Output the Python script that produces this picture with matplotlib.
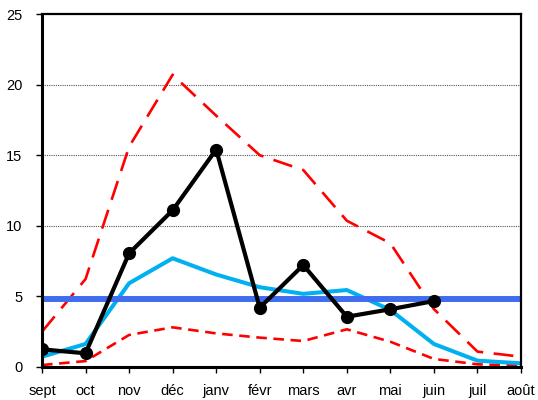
import matplotlib
matplotlib.use("Agg")
import matplotlib.pyplot as plt
import numpy as np

months = ["sept", "oct", "nov", "déc", "janv", "févr", "mars", "avr", "mai", "juin", "juil", "août"]
observed = [1.25, 0.97, 8.05, 11.1, 15.4, 4.2, 7.22, 3.56, 4.09, 4.67]
median = [0.73, 1.63, 5.93, 7.7, 6.55, 5.65, 5.18, 5.45, 4.04, 1.63, 0.45, 0.26]
upper = [2.5, 6.23, 15.6, 20.7, 17.8, 15.0, 13.95, 10.36, 8.76, 4.1, 1.09, 0.73]
lower = [0.14, 0.42, 2.27, 2.81, 2.38, 2.08, 1.84, 2.67, 1.79, 0.57, 0.19, 0.1]
mean_level = 4.79
yticks = [0, 5, 10, 15, 20, 25]

plt.rcParams["font.family"] = ["Liberation Sans", "DejaVu Sans"]

fig = plt.figure(figsize=(5.38, 4.0), dpi=100)
ax = fig.add_axes([42/538, 1-367/400, (521-42)/538, (367-14)/400])

x = np.arange(len(months))
ax.set_xlim(0, len(months)-1)
ax.set_ylim(0, 25)

for v in [10, 15, 20]:
    ax.axhline(v, color="#555555", lw=0.8, ls=(0, (1, 1)), zorder=1)

ax.plot(x, upper, color="#FF0000", lw=1.9, dashes=(7.5, 4), zorder=2)
ax.plot(x, lower, color="#FF0000", lw=1.9, dashes=(4, 2.5), zorder=2)
ax.plot(x, median, color="#00B0F0", lw=2.9, zorder=3, solid_joinstyle="round")
ax.axhline(mean_level, color="#3F6DF0", lw=4.3, zorder=4)
ax.plot(x[:len(observed)], observed, color="black", lw=3.0, marker="o", ms=8.5, zorder=5)

ax.set_xticks(x)
ax.set_xticklabels(months, fontsize=10.5)
ax.set_yticks(yticks)
ax.set_yticklabels([str(v) for v in yticks], fontsize=10.5)
ax.tick_params(axis="x", direction="out", length=4, width=1, pad=8)
ax.tick_params(axis="y", direction="out", length=4, width=1, pad=10)

for s in ["left", "bottom"]:
    ax.spines[s].set_linewidth(2.2)
for s in ["top", "right"]:
    ax.spines[s].set_linewidth(1.6)
for s in ax.spines.values():
    s.set_color("black")
    s.set_zorder(6)

fig.savefig("out.png", dpi=100)
